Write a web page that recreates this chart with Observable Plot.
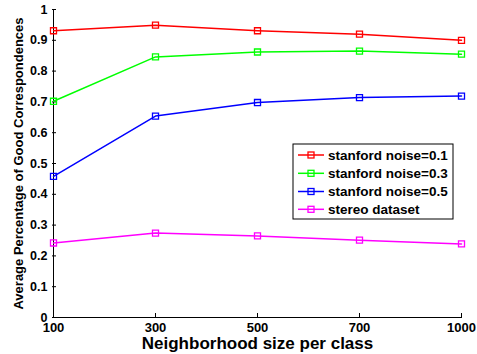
<!DOCTYPE html>
<html><head><meta charset="utf-8">
<script src="https://cdn.jsdelivr.net/npm/d3@7"></script>
<script src="https://cdn.jsdelivr.net/npm/@observablehq/plot@0.6"></script>
<style>body{margin:0;background:#fff} #chart{width:477px;height:354px}</style>
</head><body><div id="chart"></div>
<script>
const sizes = ["100","300","500","700","1000"];
const noise01 = [0.931,0.949,0.931,0.920,0.900];
const noise03 = [0.702,0.846,0.862,0.865,0.855];
const noise05 = [0.458,0.654,0.698,0.714,0.719];
const stereo = [0.242,0.274,0.265,0.251,0.239];
const seriesNames = ["stanford noise=0.1","stanford noise=0.3","stanford noise=0.5","stereo dataset"];
const seriesColors = ["#ff0000","#00ff00","#0000ff","#ff00ff"];
const yTicks = [0,0.1,0.2,0.3,0.4,0.5,0.6,0.7,0.8,0.9,1];
const xLabel = "Neighborhood size per class";
const yLabel = "Average Percentage of Good Correspondences";

const seriesValues = [noise01,noise03,noise05,stereo];
const rows = seriesValues.flatMap((vals,i)=>vals.map((v,j)=>({size:sizes[j],value:v,series:seriesNames[i]})));

const W=477,H=354, mL=52, mR=15, mT=9, mB=37;
const innerW = W-mL-mR, innerH = H-mT-mB;
const font = "'Liberation Sans', Arial, Helvetica, sans-serif";

const chart = Plot.plot({
  width:W, height:H, marginLeft:mL, marginRight:mR, marginTop:mT, marginBottom:mB,
  style:{fontFamily:font, fontWeight:"bold", background:"#fff", color:"#000", overflow:"visible"},
  x:{type:"point", domain:sizes, padding:0},
  y:{domain:[0,1]},
  color:{domain:seriesNames, range:seriesColors},
  marks:[
    Plot.axisX({tickSize:0, tickPadding:5, fontSize:13, label:null}),
    Plot.axisY(yTicks,{tickSize:0, tickPadding:5, fontSize:12.5, tickFormat:d=>String(d), label:null}),
    Plot.tickX(sizes,{x:d=>d, insetTop: innerH-4, stroke:"#000"}),
    Plot.tickY(yTicks,{y:d=>d, insetRight: innerW-4, stroke:"#000"}),
    Plot.ruleX([sizes[0]],{x:d=>d, stroke:"#000"}),
    Plot.ruleY([0],{stroke:"#000"}),
    Plot.line(rows,{x:"size",y:"value",z:"series",stroke:"series",strokeWidth:1.5}),
    Plot.dot(rows,{x:"size",y:"value",stroke:"series",symbol:"square",r:3.4,strokeWidth:1.3,fill:"none"}),
    Plot.text([xLabel],{text:d=>d, frameAnchor:"bottom", dy:26, fontSize:17, fontWeight:"bold", lineAnchor:"middle", textAnchor:"middle"}),
    Plot.text([yLabel],{text:d=>d, frameAnchor:"left", dx:-34, rotate:-90, fontSize:13, fontWeight:"bold", lineAnchor:"middle", textAnchor:"middle"})
  ]
});
document.getElementById("chart").appendChild(chart);

// legend (layout drawn in the SVG)
const svg = d3.select(chart);
const lg = svg.append("g").attr("font-family", font).attr("font-weight","bold").attr("font-size", 13.5).attr("text-anchor","start");
lg.append("rect").attr("x",293).attr("y",144).attr("width",160).attr("height",75)
  .attr("fill","#fff").attr("stroke","#000").attr("stroke-width",1);
const rowY = [155,173.3,191.5,209.3];
seriesNames.forEach((name,i)=>{
  const y = rowY[i];
  lg.append("line").attr("x1",298).attr("x2",324).attr("y1",y).attr("y2",y)
    .attr("stroke",seriesColors[i]).attr("stroke-width",1.5);
  lg.append("rect").attr("x",311-3).attr("y",y-3).attr("width",6).attr("height",6)
    .attr("fill","none").attr("stroke",seriesColors[i]).attr("stroke-width",1.3);
  lg.append("text").attr("x",328).attr("y",y).attr("dy","0.35em").attr("fill","#000")
    .attr("text-anchor","start").text(name);
});
</script>
</body></html>
